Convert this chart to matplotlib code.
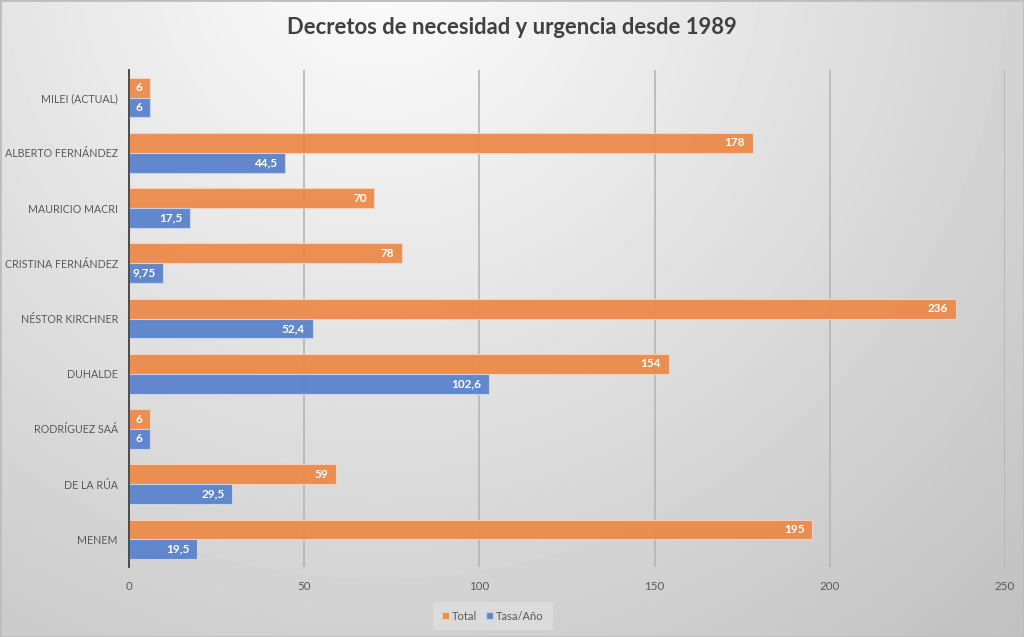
import numpy as np
import matplotlib
matplotlib.use("Agg")
import matplotlib.pyplot as plt
from matplotlib.patches import Rectangle

plt.rcParams["font.family"] = ["Lato", "DejaVu Sans"]

presidents = ["MENEM", "DE LA RÚA", "RODRÍGUEZ SAÁ", "DUHALDE", "NÉSTOR KIRCHNER",
              "CRISTINA FERNÁNDEZ", "MAURICIO MACRI", "ALBERTO FERNÁNDEZ", "MILEI (ACTUAL)"]
total = [195, 59, 6, 154, 236, 78, 70, 178, 6]
tasa = [19.5, 29.5, 6, 102.6, 52.4, 9.75, 17.5, 44.5, 6]
total_labels = ["195", "59", "6", "154", "236", "78", "70", "178", "6"]
tasa_labels = ["19,5", "29,5", "6", "102,6", "52,4", "9,75", "17,5", "44,5", "6"]
xticks = [0, 50, 100, 150, 200, 250]

W, H = 1024, 637
fig = plt.figure(figsize=(W / 100, H / 100), dpi=100)

# radial grey background
bg = fig.add_axes([0, 0, 1, 1], zorder=-10)
yy, xx = np.mgrid[0:H, 0:W]
d = np.sqrt((xx - 380) ** 2 + (yy + 50) ** 2)
v = np.clip(252.7 - 0.0645 * d, 0, 250) / 255.0
bg.imshow(v, cmap="gray", vmin=0, vmax=1, extent=[0, 1, 0, 1], aspect="auto")
bg.add_patch(Rectangle((0, 0), 1, 1, fill=False, edgecolor="#bdbdbd", lw=2,
                       transform=bg.transAxes))
bg.axis("off")

left, right = 129 / W, 1005 / W
top, bottom = 1 - 70 / H, 1 - 567 / H
ax = fig.add_axes([left, bottom, right - left, top - bottom])
ax.set_facecolor("none")

y = np.arange(len(presidents))
h = 0.36
c_total = "#EC8A4A"
c_tasa = "#5A82CC"
ax.barh(y + h / 2, total, height=h, color=c_total, edgecolor="#f6d3bd", lw=0.8,
        alpha=0.95, zorder=3, label="Total")
ax.barh(y - h / 2, tasa, height=h, color=c_tasa, edgecolor="#c9d6ef", lw=0.8,
        alpha=0.95, zorder=3, label="Tasa/Año")

pad = 2.2
for i in range(len(presidents)):
    ax.text(total[i] - pad, y[i] + h / 2, total_labels[i], ha="right", va="center",
            color="white", fontsize=8.5, fontweight="bold", zorder=4)
    ax.text(tasa[i] - pad, y[i] - h / 2, tasa_labels[i], ha="right", va="center",
            color="white", fontsize=8.5, fontweight="bold", zorder=4)

ax.set_xlim(0, 250)
ax.set_ylim(-0.5, 8.5)
ax.set_xticks(xticks)
ax.set_xticklabels([str(t) for t in xticks])
ax.set_yticks(y)
ax.set_yticklabels(presidents)
ax.tick_params(axis="both", length=0, colors="#595959", labelsize=8.3)
ax.tick_params(axis="y", labelsize=7.7, pad=8)
ax.tick_params(axis="x", pad=10)
ax.xaxis.grid(True, color="#b5b5b5", lw=1.2, zorder=0)
ax.set_axisbelow(True)
for s in ["top", "right", "bottom"]:
    ax.spines[s].set_visible(False)
ax.spines["left"].set_color("#404040")
ax.spines["left"].set_linewidth(1.3)
ax.spines["left"].set_zorder(5)

fig.text(0.5, 1 - 27 / H, "Decretos de necesidad y urgencia desde 1989", ha="center",
         va="center", fontsize=15.8, fontweight="bold", color="#404040")

leg = fig.legend(loc="center", bbox_to_anchor=(493 / W, 1 - 616 / H), ncol=2,
                 frameon=True, fontsize=8, handlelength=0.6, handleheight=0.6,
                 handletextpad=0.3, columnspacing=0.8, borderpad=0.5)
leg.get_frame().set_facecolor("#dedede")
leg.get_frame().set_edgecolor("none")
leg.get_frame().set_boxstyle("square")
for t in leg.get_texts():
    t.set_color("#595959")

fig.savefig("out.png", dpi=100)
